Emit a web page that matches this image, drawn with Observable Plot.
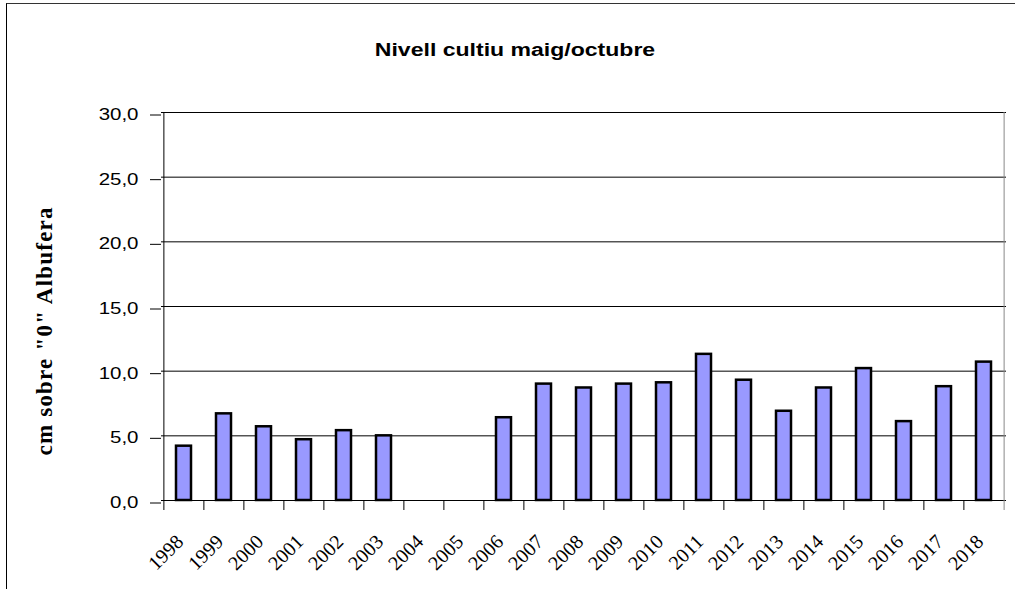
<!DOCTYPE html>
<html>
<head>
<meta charset="utf-8">
<script src="https://cdn.jsdelivr.net/npm/d3@7"></script>
<script src="https://cdn.jsdelivr.net/npm/@observablehq/plot@0.6"></script>
<style>
  body { margin: 0; background: white; }
  #wrap { position: relative; width: 1015px; height: 589px; overflow: hidden; background: white; }
  #titlebox { position: relative; height: 80px; }
  #title { position: absolute; left: 515px; top: 41px; transform: translateX(-50%) scaleX(1.28);
           font: bold 18px "Liberation Sans", Arial, sans-serif; line-height: 18px; white-space: nowrap; color: #000; }
  #border { position: absolute; left: 6px; top: 3px; width: 1100px; height: 700px;
            border-left: 1.5px solid #000; border-top: 1.5px solid #333; pointer-events: none; }
</style>
</head>
<body>
<div id="wrap">
  <div id="titlebox"><span id="title"></span></div>
  <div id="chart"></div>
  <div id="border"></div>
</div>
<script>
const titleText = "Nivell cultiu maig/octubre";
const yLabel = 'cm sobre "0" Albufera';
const years = ["1998","1999","2000","2001","2002","2003","2004","2005","2006","2007","2008",
               "2009","2010","2011","2012","2013","2014","2015","2016","2017","2018"];
const values = [4.2, 6.7, 5.7, 4.7, 5.4, 5.0, null, null, 6.4, 9.0, 8.7,
                9.0, 9.1, 11.3, 9.3, 6.9, 8.7, 10.2, 6.1, 8.8, 10.7];
const yTicks = [0, 5, 10, 15, 20, 25, 30];

document.getElementById("title").textContent = titleText;

const W = 1015, H = 509, mL = 161, mR = 9, mT = 32, mB = 89;
const step = (W - mL - mR) / years.length;
const tickLen = 10 * 30 / (H - mT - mB);

const data = years.map((y, i) => ({year: y, value: values[i]})).filter(d => d.value != null);

const chart = Plot.plot({
  width: W, height: H,
  marginLeft: mL, marginRight: mR, marginTop: mT, marginBottom: mB,
  style: {fontFamily: "Liberation Sans, Arial, sans-serif", fontSize: "16px", color: "black", background: "transparent"},
  x: {type: "band", domain: years, paddingInner: 0.62, paddingOuter: 0.31, axis: null},
  y: {domain: [0, 30], axis: null, label: null},
  marks: [
    Plot.ruleY(yTicks, {stroke: "black", strokeWidth: 1}),
    Plot.ruleX(years, {x: d => d, dx: -step / 2, y1: 0, y2: -tickLen, stroke: "black"}),
    Plot.ruleX([years[years.length - 1]], {x: d => d, dx: step / 2, y1: -tickLen, y2: 30, stroke: "#888"}),
    Plot.ruleX([years[0]], {x: d => d, dx: -step / 2, y1: 0, y2: 30, stroke: "black"}),
    Plot.barY(data, {x: "year", y: "value", fill: "#9999ff", stroke: "black", strokeWidth: 2.5}),
    Plot.axisY(yTicks, {tickSize: 11, tickPadding: 12, dy: 2.5, label: null, fontSize: 16,
                        tickFormat: d => d.toFixed(1).replace(".", ","), stroke: "black", fill: "black"}),
    Plot.text(years, {x: d => d, y: 0, text: d => d, rotate: -45, textAnchor: "end", lineAnchor: "middle",
                      dy: 38, dx: -4, fontFamily: "Liberation Serif, Times New Roman, serif", fontSize: 20, fill: "black"}),
    Plot.text([yLabel], {frameAnchor: "left", dx: -117, dy: 25, rotate: -90, textAnchor: "middle", lineAnchor: "middle",
                         fontFamily: "Liberation Serif, Times New Roman, serif", fontSize: 23, fontWeight: "bold", fill: "black"})
  ]
});
document.getElementById("chart").appendChild(chart);

// horizontal stretch of the y tick labels about their right-end anchor
d3.select(chart).selectAll('g[aria-label="y-axis tick label"] text').each(function() {
  const x = parseFloat(this.getAttribute("x")) || 0;
  this.removeAttribute("x");
  const t = this.getAttribute("transform") || "";
  this.setAttribute("transform", (t + ` translate(${x},0) scale(1.28,1)`).trim());
});
// wide spacing of the y label
d3.select(chart).selectAll("text").filter(function() { return this.textContent === yLabel; }).each(function() {
  this.setAttribute("textLength", 248);
  this.setAttribute("lengthAdjust", "spacing");
});
</script>
</body>
</html>
